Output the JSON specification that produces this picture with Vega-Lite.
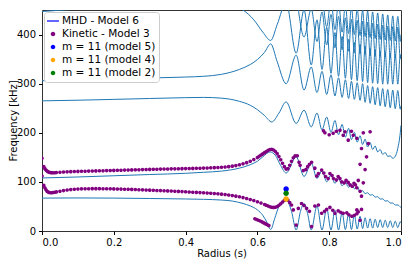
{
"$schema": "https://vega.github.io/schema/vega-lite/v6.json",
"width": 359, "height": 221,
"autosize": {"type": "none"},
"padding": {"left": 42, "top": 10, "right": 14, "bottom": 33},
"config": {
 "font": "DejaVu Sans",
 "view": {"stroke": "#333333", "strokeWidth": 1},
 "axis": {"grid": false, "domain": false, "tickColor": "#000000", "tickSize": 3.5, "labelFontSize": 10, "labelColor": "#000000", "titleFontSize": 10, "titleFontWeight": "normal", "titleColor": "#000000", "labelPadding": 3}
},
"datasets": {
"lines": [
{"l":"D","x":0,"y":67},{"l":"D","x":0.1,"y":67.3},{"l":"D","x":0.2,"y":67},{"l":"D","x":0.3,"y":66.2},{"l":"D","x":0.4,"y":65.2},{"l":"D","x":0.45,"y":64.5},{"l":"D","x":0.5,"y":63},{"l":"D","x":0.53,"y":61},{"l":"D","x":0.56,"y":56},{"l":"D","x":0.58,"y":51},{"l":"D","x":0.6,"y":43},{"l":"D","x":0.615,"y":32},{"l":"D","x":0.627,"y":17},{"l":"D","x":0.637,"y":3},{"l":"D","x":0.648,"y":25},{"l":"D","x":0.66,"y":50},{"l":"D","x":0.68,"y":64},{"l":"D","x":0.695,"y":40},{"l":"D","x":0.708,"y":2},{"l":"D","x":0.72,"y":40},{"l":"D","x":0.73,"y":56},{"l":"D","x":0.74,"y":35},{"l":"D","x":0.75,"y":2},{"l":"D","x":0.766,"y":51},{"l":"D","x":0.78,"y":2},{"l":"D","x":0.793,"y":46},{"l":"D","x":0.805,"y":2},{"l":"D","x":0.816,"y":42},{"l":"D","x":0.826,"y":2},{"l":"D","x":0.836,"y":38},{"l":"D","x":0.845,"y":3},{"l":"D","x":0.854,"y":35},{"l":"D","x":0.862,"y":3},{"l":"D","x":0.87,"y":33},{"l":"D","x":0.878,"y":4},{"l":"D","x":0.886,"y":30},{"l":"D","x":0.893,"y":5},{"l":"D","x":0.9,"y":27},{"l":"D","x":0.907,"y":6},{"l":"D","x":0.914,"y":25},{"l":"D","x":0.921,"y":6},{"l":"D","x":0.928,"y":24},{"l":"D","x":0.935,"y":7},{"l":"D","x":0.942,"y":23},{"l":"D","x":0.949,"y":7},{"l":"D","x":0.956,"y":22},{"l":"D","x":0.963,"y":7},{"l":"D","x":0.97,"y":21},{"l":"D","x":0.977,"y":7},{"l":"D","x":0.984,"y":20},{"l":"D","x":0.991,"y":7},{"l":"D","x":0.998,"y":19},{"l":"D","x":1.0,"y":16},
{"l":"C","x":0,"y":108},{"l":"C","x":0.1,"y":110},{"l":"C","x":0.2,"y":112.5},{"l":"C","x":0.3,"y":115},{"l":"C","x":0.4,"y":117.5},{"l":"C","x":0.45,"y":119.5},{"l":"C","x":0.5,"y":122},{"l":"C","x":0.55,"y":128},{"l":"C","x":0.58,"y":135},{"l":"C","x":0.6,"y":142},{"l":"C","x":0.615,"y":151},{"l":"C","x":0.635,"y":161},{"l":"C","x":0.65,"y":154},{"l":"C","x":0.665,"y":133},{"l":"C","x":0.68,"y":118},{"l":"C","x":0.708,"y":151},{"l":"C","x":0.73,"y":111},{"l":"C","x":0.75,"y":138},{"l":"C","x":0.766,"y":107},{"l":"C","x":0.78,"y":123},{"l":"C","x":0.793,"y":100},{"l":"C","x":0.805,"y":114},{"l":"C","x":0.816,"y":97},{"l":"C","x":0.826,"y":107},{"l":"C","x":0.836,"y":92},{"l":"C","x":0.845,"y":99},{"l":"C","x":0.854,"y":89},{"l":"C","x":0.862,"y":95},{"l":"C","x":0.87,"y":86},{"l":"C","x":0.878,"y":90},{"l":"C","x":0.886,"y":80},{"l":"C","x":0.893,"y":82},{"l":"C","x":0.9,"y":76},{"l":"C","x":0.907,"y":78},{"l":"C","x":0.914,"y":73},{"l":"C","x":0.921,"y":74},{"l":"C","x":0.928,"y":69},{"l":"C","x":0.935,"y":70},{"l":"C","x":0.942,"y":65},{"l":"C","x":0.949,"y":65.5},{"l":"C","x":0.956,"y":61},{"l":"C","x":0.963,"y":61.5},{"l":"C","x":0.97,"y":57},{"l":"C","x":0.977,"y":57},{"l":"C","x":0.984,"y":53},{"l":"C","x":0.991,"y":53},{"l":"C","x":0.998,"y":49},{"l":"C","x":1.0,"y":48},
{"l":"B","x":0,"y":265},{"l":"B","x":0.1,"y":266.3},{"l":"B","x":0.2,"y":268},{"l":"B","x":0.3,"y":269.8},{"l":"B","x":0.4,"y":271.5},{"l":"B","x":0.45,"y":272},{"l":"B","x":0.5,"y":270.5},{"l":"B","x":0.55,"y":264},{"l":"B","x":0.58,"y":256},{"l":"B","x":0.6,"y":247},{"l":"B","x":0.62,"y":235},{"l":"B","x":0.64,"y":222},{"l":"B","x":0.66,"y":240},{"l":"B","x":0.68,"y":263},{"l":"B","x":0.708,"y":219},{"l":"B","x":0.73,"y":246},{"l":"B","x":0.75,"y":212},{"l":"B","x":0.766,"y":240},{"l":"B","x":0.78,"y":206},{"l":"B","x":0.793,"y":232},{"l":"B","x":0.805,"y":201},{"l":"B","x":0.816,"y":225},{"l":"B","x":0.826,"y":196},{"l":"B","x":0.836,"y":217},{"l":"B","x":0.845,"y":191},{"l":"B","x":0.854,"y":209},{"l":"B","x":0.862,"y":186},{"l":"B","x":0.87,"y":201},{"l":"B","x":0.878,"y":181},{"l":"B","x":0.886,"y":194},{"l":"B","x":0.893,"y":176},{"l":"B","x":0.9,"y":187},{"l":"B","x":0.907,"y":171},{"l":"B","x":0.914,"y":180},{"l":"B","x":0.921,"y":166},{"l":"B","x":0.928,"y":173},{"l":"B","x":0.935,"y":161},{"l":"B","x":0.942,"y":166},{"l":"B","x":0.949,"y":156},{"l":"B","x":0.956,"y":160},{"l":"B","x":0.963,"y":152},{"l":"B","x":0.97,"y":153},{"l":"B","x":0.977,"y":148},{"l":"B","x":0.984,"y":152},{"l":"B","x":0.991,"y":168},{"l":"B","x":0.998,"y":200},{"l":"B","x":1.0,"y":215},
{"l":"A","x":0,"y":306},{"l":"A","x":0.1,"y":307.5},{"l":"A","x":0.2,"y":309.5},{"l":"A","x":0.3,"y":311.5},{"l":"A","x":0.4,"y":313.5},{"l":"A","x":0.45,"y":315},{"l":"A","x":0.5,"y":319},{"l":"A","x":0.55,"y":329},{"l":"A","x":0.58,"y":339},{"l":"A","x":0.6,"y":349},{"l":"A","x":0.62,"y":364},{"l":"A","x":0.637,"y":381},{"l":"A","x":0.655,"y":345},{"l":"A","x":0.68,"y":300},{"l":"A","x":0.708,"y":358},{"l":"A","x":0.73,"y":287},{"l":"A","x":0.75,"y":334},{"l":"A","x":0.766,"y":282},{"l":"A","x":0.78,"y":325},{"l":"A","x":0.793,"y":278},{"l":"A","x":0.805,"y":318},{"l":"A","x":0.816,"y":275},{"l":"A","x":0.826,"y":312},{"l":"A","x":0.836,"y":272},{"l":"A","x":0.845,"y":308},{"l":"A","x":0.854,"y":270},{"l":"A","x":0.862,"y":305},{"l":"A","x":0.87,"y":268},{"l":"A","x":0.878,"y":302},{"l":"A","x":0.886,"y":266},{"l":"A","x":0.893,"y":300},{"l":"A","x":0.9,"y":262},{"l":"A","x":0.907,"y":296},{"l":"A","x":0.914,"y":260},{"l":"A","x":0.921,"y":294},{"l":"A","x":0.928,"y":257},{"l":"A","x":0.935,"y":292},{"l":"A","x":0.942,"y":255},{"l":"A","x":0.949,"y":290},{"l":"A","x":0.956,"y":253},{"l":"A","x":0.963,"y":288},{"l":"A","x":0.97,"y":251},{"l":"A","x":0.977,"y":287},{"l":"A","x":0.984,"y":249},{"l":"A","x":0.991,"y":286},{"l":"A","x":0.998,"y":248},{"l":"A","x":1.0,"y":255},
{"l":"U","x":0,"y":447},{"l":"U","x":0.04,"y":449},{"l":"U","x":0.08,"y":451},{"l":"U","x":0.15,"y":456},{"l":"U","x":0.3,"y":464},{"l":"U","x":0.45,"y":470},{"l":"U","x":0.5,"y":467},{"l":"U","x":0.53,"y":460},{"l":"U","x":0.56,"y":450},{"l":"U","x":0.59,"y":430},{"l":"U","x":0.615,"y":405},{"l":"U","x":0.637,"y":388},{"l":"U","x":0.655,"y":420},{"l":"U","x":0.68,"y":465},{"l":"U","x":0.708,"y":362},{"l":"U","x":0.73,"y":450},{"l":"U","x":0.75,"y":338},{"l":"U","x":0.766,"y":430},{"l":"U","x":0.78,"y":329},{"l":"U","x":0.793,"y":415},{"l":"U","x":0.805,"y":321},{"l":"U","x":0.816,"y":404},{"l":"U","x":0.826,"y":315},{"l":"U","x":0.836,"y":396},{"l":"U","x":0.845,"y":311},{"l":"U","x":0.854,"y":390},{"l":"U","x":0.862,"y":308},{"l":"U","x":0.87,"y":384},{"l":"U","x":0.878,"y":306},{"l":"U","x":0.886,"y":380},{"l":"U","x":0.893,"y":304},{"l":"U","x":0.9,"y":376},{"l":"U","x":0.907,"y":302},{"l":"U","x":0.914,"y":372},{"l":"U","x":0.921,"y":301},{"l":"U","x":0.928,"y":369},{"l":"U","x":0.935,"y":300},{"l":"U","x":0.942,"y":366},{"l":"U","x":0.949,"y":299},{"l":"U","x":0.956,"y":364},{"l":"U","x":0.963,"y":299},{"l":"U","x":0.97,"y":362},{"l":"U","x":0.977,"y":299},{"l":"U","x":0.984,"y":360},{"l":"U","x":0.991,"y":299},{"l":"U","x":0.998,"y":358},{"l":"U","x":1.0,"y":350},
{"l":"G","x":0.69,"y":560},{"l":"G","x":0.708,"y":480},{"l":"G","x":0.73,"y":395},{"l":"G","x":0.75,"y":452},{"l":"G","x":0.766,"y":386},{"l":"G","x":0.78,"y":446},{"l":"G","x":0.793,"y":379},{"l":"G","x":0.805,"y":441},{"l":"G","x":0.816,"y":373},{"l":"G","x":0.826,"y":437},{"l":"G","x":0.836,"y":369},{"l":"G","x":0.845,"y":434},{"l":"G","x":0.854,"y":366},{"l":"G","x":0.862,"y":431},{"l":"G","x":0.87,"y":363},{"l":"G","x":0.878,"y":429},{"l":"G","x":0.886,"y":361},{"l":"G","x":0.893,"y":427},{"l":"G","x":0.9,"y":359},{"l":"G","x":0.907,"y":425},{"l":"G","x":0.914,"y":357},{"l":"G","x":0.921,"y":423},{"l":"G","x":0.928,"y":356},{"l":"G","x":0.935,"y":421},{"l":"G","x":0.942,"y":355},{"l":"G","x":0.949,"y":419},{"l":"G","x":0.956,"y":354},{"l":"G","x":0.963,"y":417},{"l":"G","x":0.97,"y":353},{"l":"G","x":0.977,"y":416},{"l":"G","x":0.984,"y":352},{"l":"G","x":0.991,"y":415},{"l":"G","x":0.998,"y":352},{"l":"G","x":1.0,"y":360},
{"l":"H","x":0.76,"y":600},{"l":"H","x":0.78,"y":490},{"l":"H","x":0.793,"y":416},{"l":"H","x":0.805,"y":470},{"l":"H","x":0.816,"y":410},{"l":"H","x":0.826,"y":465},{"l":"H","x":0.836,"y":405},{"l":"H","x":0.845,"y":460},{"l":"H","x":0.854,"y":402},{"l":"H","x":0.862,"y":456},{"l":"H","x":0.87,"y":400},{"l":"H","x":0.878,"y":452},{"l":"H","x":0.886,"y":398},{"l":"H","x":0.893,"y":450},{"l":"H","x":0.9,"y":396},{"l":"H","x":0.907,"y":448},{"l":"H","x":0.914,"y":394},{"l":"H","x":0.921,"y":446},{"l":"H","x":0.928,"y":392},{"l":"H","x":0.935,"y":444},{"l":"H","x":0.942,"y":390},{"l":"H","x":0.949,"y":442},{"l":"H","x":0.956,"y":389},{"l":"H","x":0.963,"y":440},{"l":"H","x":0.97,"y":388},{"l":"H","x":0.977,"y":438},{"l":"H","x":0.984,"y":387},{"l":"H","x":0.991,"y":437},{"l":"H","x":0.998,"y":386},{"l":"H","x":1.0,"y":400}
],
"kin": [
{"s":"Kinetic - Model 3","x":0,"y":148},{"s":"Kinetic - Model 3","x":0.005,"y":131},{"s":"Kinetic - Model 3","x":0.008,"y":127},{"s":"Kinetic - Model 3","x":0.011,"y":124},{"s":"Kinetic - Model 3","x":0.014,"y":122},{"s":"Kinetic - Model 3","x":0.017,"y":120.5},{"s":"Kinetic - Model 3","x":0.02,"y":119.5},{"s":"Kinetic - Model 3","x":0.025,"y":118.8},{"s":"Kinetic - Model 3","x":0.03,"y":118.5},{"s":"Kinetic - Model 3","x":0.035,"y":118.7},{"s":"Kinetic - Model 3","x":0.04,"y":119},{"s":"Kinetic - Model 3","x":0.05,"y":119.5},{"s":"Kinetic - Model 3","x":0.06,"y":120},{"s":"Kinetic - Model 3","x":0.07,"y":120.4},{"s":"Kinetic - Model 3","x":0.08,"y":120.8},{"s":"Kinetic - Model 3","x":0.09,"y":121.1},{"s":"Kinetic - Model 3","x":0.1,"y":121.4},{"s":"Kinetic - Model 3","x":0.11,"y":121.6},{"s":"Kinetic - Model 3","x":0.12,"y":121.8},{"s":"Kinetic - Model 3","x":0.13,"y":122},{"s":"Kinetic - Model 3","x":0.14,"y":122.2},{"s":"Kinetic - Model 3","x":0.15,"y":122.4},{"s":"Kinetic - Model 3","x":0.16,"y":122.6},{"s":"Kinetic - Model 3","x":0.17,"y":122.8},{"s":"Kinetic - Model 3","x":0.18,"y":123},{"s":"Kinetic - Model 3","x":0.19,"y":123.2},{"s":"Kinetic - Model 3","x":0.2,"y":123.4},{"s":"Kinetic - Model 3","x":0.21,"y":123.6},{"s":"Kinetic - Model 3","x":0.22,"y":123.8},{"s":"Kinetic - Model 3","x":0.23,"y":124},{"s":"Kinetic - Model 3","x":0.24,"y":124.2},{"s":"Kinetic - Model 3","x":0.25,"y":124.4},{"s":"Kinetic - Model 3","x":0.26,"y":124.6},{"s":"Kinetic - Model 3","x":0.27,"y":124.8},{"s":"Kinetic - Model 3","x":0.28,"y":125},{"s":"Kinetic - Model 3","x":0.29,"y":125.2},{"s":"Kinetic - Model 3","x":0.3,"y":125.4},{"s":"Kinetic - Model 3","x":0.31,"y":125.6},{"s":"Kinetic - Model 3","x":0.32,"y":125.8},{"s":"Kinetic - Model 3","x":0.33,"y":126},{"s":"Kinetic - Model 3","x":0.34,"y":126.1},{"s":"Kinetic - Model 3","x":0.35,"y":126.3},{"s":"Kinetic - Model 3","x":0.36,"y":126.5},{"s":"Kinetic - Model 3","x":0.37,"y":126.6},{"s":"Kinetic - Model 3","x":0.38,"y":126.8},{"s":"Kinetic - Model 3","x":0.39,"y":127},{"s":"Kinetic - Model 3","x":0.4,"y":127.1},{"s":"Kinetic - Model 3","x":0.41,"y":127.3},{"s":"Kinetic - Model 3","x":0.42,"y":127.5},{"s":"Kinetic - Model 3","x":0.43,"y":127.7},{"s":"Kinetic - Model 3","x":0.44,"y":127.9},{"s":"Kinetic - Model 3","x":0.45,"y":128.1},{"s":"Kinetic - Model 3","x":0.46,"y":128.4},{"s":"Kinetic - Model 3","x":0.47,"y":128.7},{"s":"Kinetic - Model 3","x":0.48,"y":129},{"s":"Kinetic - Model 3","x":0.49,"y":129.4},{"s":"Kinetic - Model 3","x":0.5,"y":129.8},{"s":"Kinetic - Model 3","x":0.51,"y":130.3},{"s":"Kinetic - Model 3","x":0.52,"y":131},{"s":"Kinetic - Model 3","x":0.53,"y":132},{"s":"Kinetic - Model 3","x":0.54,"y":133.2},{"s":"Kinetic - Model 3","x":0.55,"y":134.8},{"s":"Kinetic - Model 3","x":0.56,"y":136.8},{"s":"Kinetic - Model 3","x":0.57,"y":139.2},{"s":"Kinetic - Model 3","x":0.58,"y":142},{"s":"Kinetic - Model 3","x":0.59,"y":145.5},{"s":"Kinetic - Model 3","x":0.6,"y":149.5},{"s":"Kinetic - Model 3","x":0.605,"y":152},{"s":"Kinetic - Model 3","x":0.61,"y":154.5},{"s":"Kinetic - Model 3","x":0.615,"y":157},{"s":"Kinetic - Model 3","x":0.62,"y":159.5},{"s":"Kinetic - Model 3","x":0.625,"y":162},{"s":"Kinetic - Model 3","x":0.63,"y":164.5},{"s":"Kinetic - Model 3","x":0.635,"y":166},{"s":"Kinetic - Model 3","x":0.64,"y":166.5},{"s":"Kinetic - Model 3","x":0.645,"y":165},{"s":"Kinetic - Model 3","x":0.65,"y":162},{"s":"Kinetic - Model 3","x":0.655,"y":157.5},{"s":"Kinetic - Model 3","x":0.66,"y":151.5},{"s":"Kinetic - Model 3","x":0.665,"y":145},{"s":"Kinetic - Model 3","x":0.67,"y":138},{"s":"Kinetic - Model 3","x":0.675,"y":131},{"s":"Kinetic - Model 3","x":0.68,"y":126},{"s":"Kinetic - Model 3","x":0.685,"y":127},{"s":"Kinetic - Model 3","x":0.69,"y":134},{"s":"Kinetic - Model 3","x":0.695,"y":142},{"s":"Kinetic - Model 3","x":0.7,"y":149},{"s":"Kinetic - Model 3","x":0.705,"y":153},{"s":"Kinetic - Model 3","x":0.711,"y":153},
{"s":"Kinetic - Model 3","x":0.716,"y":140},{"s":"Kinetic - Model 3","x":0.719,"y":134},{"s":"Kinetic - Model 3","x":0.728,"y":123},{"s":"Kinetic - Model 3","x":0.735,"y":125},{"s":"Kinetic - Model 3","x":0.74,"y":131},{"s":"Kinetic - Model 3","x":0.745,"y":136},{"s":"Kinetic - Model 3","x":0.751,"y":140},{"s":"Kinetic - Model 3","x":0.76,"y":128},{"s":"Kinetic - Model 3","x":0.765,"y":112},{"s":"Kinetic - Model 3","x":0.77,"y":117},{"s":"Kinetic - Model 3","x":0.779,"y":124},{"s":"Kinetic - Model 3","x":0.785,"y":118},{"s":"Kinetic - Model 3","x":0.79,"y":111},{"s":"Kinetic - Model 3","x":0.797,"y":107},{"s":"Kinetic - Model 3","x":0.802,"y":117},{"s":"Kinetic - Model 3","x":0.808,"y":113},{"s":"Kinetic - Model 3","x":0.812,"y":107},{"s":"Kinetic - Model 3","x":0.82,"y":104},{"s":"Kinetic - Model 3","x":0.825,"y":111},{"s":"Kinetic - Model 3","x":0.83,"y":107},{"s":"Kinetic - Model 3","x":0.835,"y":100},{"s":"Kinetic - Model 3","x":0.842,"y":98},{"s":"Kinetic - Model 3","x":0.847,"y":103},{"s":"Kinetic - Model 3","x":0.853,"y":99},{"s":"Kinetic - Model 3","x":0.858,"y":94},{"s":"Kinetic - Model 3","x":0.864,"y":91},{"s":"Kinetic - Model 3","x":0.869,"y":97},{"s":"Kinetic - Model 3","x":0.873,"y":94},{"s":"Kinetic - Model 3","x":0.877,"y":88},{"s":"Kinetic - Model 3","x":0.886,"y":81},
{"s":"Kinetic - Model 3","x":0.886,"y":136},{"s":"Kinetic - Model 3","x":0.9,"y":125},{"s":"Kinetic - Model 3","x":0.881,"y":103},{"s":"Kinetic - Model 3","x":0.895,"y":98},{"s":"Kinetic - Model 3","x":0.89,"y":71},{"s":"Kinetic - Model 3","x":0.877,"y":43},{"s":"Kinetic - Model 3","x":0.89,"y":44},{"s":"Kinetic - Model 3","x":0.904,"y":151},{"s":"Kinetic - Model 3","x":0.89,"y":168},{"s":"Kinetic - Model 3","x":0.909,"y":178},{"s":"Kinetic - Model 3","x":0.895,"y":200},{"s":"Kinetic - Model 3","x":0.914,"y":202},{"s":"Kinetic - Model 3","x":0.867,"y":195},{"s":"Kinetic - Model 3","x":0.862,"y":203},{"s":"Kinetic - Model 3","x":0.839,"y":195},{"s":"Kinetic - Model 3","x":0.811,"y":199},{"s":"Kinetic - Model 3","x":0.788,"y":200},{"s":"Kinetic - Model 3","x":0.784,"y":204},{"s":"Kinetic - Model 3","x":0.844,"y":202},{"s":"Kinetic - Model 3","x":0.853,"y":185},{"s":"Kinetic - Model 3","x":0.877,"y":189},{"s":"Kinetic - Model 3","x":0.82,"y":203},{"s":"Kinetic - Model 3","x":0.8,"y":196},{"s":"Kinetic - Model 3","x":0.83,"y":205},
{"s":"Kinetic - Model 3","x":0,"y":112},{"s":"Kinetic - Model 3","x":0.005,"y":93},{"s":"Kinetic - Model 3","x":0.008,"y":88},{"s":"Kinetic - Model 3","x":0.011,"y":84},{"s":"Kinetic - Model 3","x":0.014,"y":81},{"s":"Kinetic - Model 3","x":0.017,"y":79.5},{"s":"Kinetic - Model 3","x":0.02,"y":78.5},{"s":"Kinetic - Model 3","x":0.025,"y":78},{"s":"Kinetic - Model 3","x":0.03,"y":78.2},{"s":"Kinetic - Model 3","x":0.035,"y":78.8},{"s":"Kinetic - Model 3","x":0.04,"y":79.6},{"s":"Kinetic - Model 3","x":0.05,"y":81},{"s":"Kinetic - Model 3","x":0.06,"y":82.3},{"s":"Kinetic - Model 3","x":0.07,"y":83.4},{"s":"Kinetic - Model 3","x":0.08,"y":84.3},{"s":"Kinetic - Model 3","x":0.09,"y":85},{"s":"Kinetic - Model 3","x":0.1,"y":85.5},{"s":"Kinetic - Model 3","x":0.11,"y":85.8},{"s":"Kinetic - Model 3","x":0.12,"y":86},{"s":"Kinetic - Model 3","x":0.13,"y":86.1},{"s":"Kinetic - Model 3","x":0.14,"y":86.2},{"s":"Kinetic - Model 3","x":0.15,"y":86.2},{"s":"Kinetic - Model 3","x":0.16,"y":86.2},{"s":"Kinetic - Model 3","x":0.17,"y":86.1},{"s":"Kinetic - Model 3","x":0.18,"y":86},{"s":"Kinetic - Model 3","x":0.19,"y":85.9},{"s":"Kinetic - Model 3","x":0.2,"y":85.7},{"s":"Kinetic - Model 3","x":0.21,"y":85.5},{"s":"Kinetic - Model 3","x":0.22,"y":85.3},{"s":"Kinetic - Model 3","x":0.23,"y":85.1},{"s":"Kinetic - Model 3","x":0.24,"y":84.9},{"s":"Kinetic - Model 3","x":0.25,"y":84.7},{"s":"Kinetic - Model 3","x":0.26,"y":84.4},{"s":"Kinetic - Model 3","x":0.27,"y":84.1},{"s":"Kinetic - Model 3","x":0.28,"y":83.8},{"s":"Kinetic - Model 3","x":0.29,"y":83.5},{"s":"Kinetic - Model 3","x":0.3,"y":83.2},{"s":"Kinetic - Model 3","x":0.31,"y":82.9},{"s":"Kinetic - Model 3","x":0.32,"y":82.6},{"s":"Kinetic - Model 3","x":0.33,"y":82.3},{"s":"Kinetic - Model 3","x":0.34,"y":82},{"s":"Kinetic - Model 3","x":0.35,"y":81.7},{"s":"Kinetic - Model 3","x":0.36,"y":81.3},{"s":"Kinetic - Model 3","x":0.37,"y":81},{"s":"Kinetic - Model 3","x":0.38,"y":80.6},{"s":"Kinetic - Model 3","x":0.39,"y":80.2},{"s":"Kinetic - Model 3","x":0.4,"y":79.8},{"s":"Kinetic - Model 3","x":0.41,"y":79.4},{"s":"Kinetic - Model 3","x":0.42,"y":79},{"s":"Kinetic - Model 3","x":0.43,"y":78.6},{"s":"Kinetic - Model 3","x":0.44,"y":78.2},{"s":"Kinetic - Model 3","x":0.45,"y":77.8},{"s":"Kinetic - Model 3","x":0.46,"y":77.3},{"s":"Kinetic - Model 3","x":0.47,"y":76.8},{"s":"Kinetic - Model 3","x":0.48,"y":76.3},{"s":"Kinetic - Model 3","x":0.49,"y":75.7},{"s":"Kinetic - Model 3","x":0.5,"y":75},{"s":"Kinetic - Model 3","x":0.51,"y":74.2},{"s":"Kinetic - Model 3","x":0.52,"y":73.3},{"s":"Kinetic - Model 3","x":0.53,"y":72.2},{"s":"Kinetic - Model 3","x":0.54,"y":71},{"s":"Kinetic - Model 3","x":0.55,"y":69.6},{"s":"Kinetic - Model 3","x":0.56,"y":68},{"s":"Kinetic - Model 3","x":0.57,"y":66.2},{"s":"Kinetic - Model 3","x":0.58,"y":64.2},{"s":"Kinetic - Model 3","x":0.59,"y":62},{"s":"Kinetic - Model 3","x":0.6,"y":59.6},{"s":"Kinetic - Model 3","x":0.61,"y":57},{"s":"Kinetic - Model 3","x":0.62,"y":54},{"s":"Kinetic - Model 3","x":0.625,"y":52.3},{"s":"Kinetic - Model 3","x":0.63,"y":50.8},{"s":"Kinetic - Model 3","x":0.635,"y":49.5},{"s":"Kinetic - Model 3","x":0.64,"y":48.5},{"s":"Kinetic - Model 3","x":0.645,"y":48},{"s":"Kinetic - Model 3","x":0.65,"y":48.5},{"s":"Kinetic - Model 3","x":0.655,"y":50},{"s":"Kinetic - Model 3","x":0.66,"y":52.5},{"s":"Kinetic - Model 3","x":0.665,"y":55.5},{"s":"Kinetic - Model 3","x":0.67,"y":59},{"s":"Kinetic - Model 3","x":0.675,"y":62.5},{"s":"Kinetic - Model 3","x":0.68,"y":65.5},
{"s":"Kinetic - Model 3","x":0.685,"y":63},{"s":"Kinetic - Model 3","x":0.69,"y":58},{"s":"Kinetic - Model 3","x":0.695,"y":53},{"s":"Kinetic - Model 3","x":0.7,"y":43},{"s":"Kinetic - Model 3","x":0.714,"y":46},{"s":"Kinetic - Model 3","x":0.723,"y":56},{"s":"Kinetic - Model 3","x":0.73,"y":52},{"s":"Kinetic - Model 3","x":0.737,"y":46},{"s":"Kinetic - Model 3","x":0.745,"y":40},{"s":"Kinetic - Model 3","x":0.76,"y":51},{"s":"Kinetic - Model 3","x":0.77,"y":53},{"s":"Kinetic - Model 3","x":0.779,"y":36},{"s":"Kinetic - Model 3","x":0.787,"y":40},{"s":"Kinetic - Model 3","x":0.793,"y":44},{"s":"Kinetic - Model 3","x":0.802,"y":48},{"s":"Kinetic - Model 3","x":0.81,"y":42},{"s":"Kinetic - Model 3","x":0.816,"y":36},{"s":"Kinetic - Model 3","x":0.825,"y":41},{"s":"Kinetic - Model 3","x":0.832,"y":38},{"s":"Kinetic - Model 3","x":0.839,"y":36},{"s":"Kinetic - Model 3","x":0.849,"y":37},{"s":"Kinetic - Model 3","x":0.855,"y":33},{"s":"Kinetic - Model 3","x":0.863,"y":30},{"s":"Kinetic - Model 3","x":0.87,"y":32},{"s":"Kinetic - Model 3","x":0.877,"y":35},{"s":"Kinetic - Model 3","x":0.881,"y":39},{"s":"Kinetic - Model 3","x":0.886,"y":22},{"s":"Kinetic - Model 3","x":0.708,"y":12},{"s":"Kinetic - Model 3","x":0.751,"y":9},
{"s":"Kinetic - Model 3","x":0.593,"y":25},{"s":"Kinetic - Model 3","x":0.598,"y":23.5},{"s":"Kinetic - Model 3","x":0.603,"y":22},{"s":"Kinetic - Model 3","x":0.608,"y":20.5},{"s":"Kinetic - Model 3","x":0.613,"y":18.5},{"s":"Kinetic - Model 3","x":0.618,"y":16.5},{"s":"Kinetic - Model 3","x":0.623,"y":14.5},{"s":"Kinetic - Model 3","x":0.628,"y":12.5},{"s":"Kinetic - Model 3","x":0.632,"y":11}
],
"m11": [
{"s":"m = 11 (model 5)","x":0.68,"y":85.5},
{"s":"m = 11 (model 2)","x":0.68,"y":77},
{"s":"m = 11 (model 4)","x":0.68,"y":65}
]
},
"layer": [
{"data": {"name": "lines"},
 "mark": {"type": "line", "color": "#1f77b4", "strokeWidth": 1, "interpolate": "monotone", "clip": true},
 "encoding": {
  "x": {"field": "x", "type": "quantitative", "scale": {"domain": [0, 1], "nice": false, "zero": false},
        "axis": {"values": [0, 0.2, 0.4, 0.6, 0.8, 1.0], "format": ".1f", "title": "Radius (s)", "titlePadding": 1}},
  "y": {"field": "y", "type": "quantitative", "scale": {"domain": [0, 450], "nice": false},
        "axis": {"values": [0, 50, 100, 150, 200, 250, 300, 350, 400, 450], "title": "Frequency [kHz]", "titlePadding": -2}},
  "detail": {"field": "l", "type": "nominal"}
 }},
{"data": {"name": "kin"},
 "mark": {"type": "point", "filled": true, "opacity": 1, "size": 90, "clip": true},
 "encoding": {
  "x": {"field": "x", "type": "quantitative"},
  "y": {"field": "y", "type": "quantitative"},
  "color": {"field": "s", "type": "nominal",
   "scale": {"domain": ["MHD - Model 6", "Kinetic - Model 3", "m = 11 (model 5)", "m = 11 (model 4)", "m = 11 (model 2)"], "range": ["#0000ff", "#800080", "#0000ff", "#ffa500", "#008000"]},
   "legend": {"title": null, "orient": "top-left", "offset": 2, "padding": 3, "fillColor": "#ffffff", "strokeColor": "#cccccc", "cornerRadius": 3, "symbolSize": 144, "symbolStrokeWidth": 0, "symbolOpacity": 1, "labelFontSize": 10.5, "labelColor": "#000000", "labelOffset": 3, "rowPadding": 1}},
  "shape": {"field": "s", "type": "nominal",
   "scale": {"domain": ["MHD - Model 6", "Kinetic - Model 3", "m = 11 (model 5)", "m = 11 (model 4)", "m = 11 (model 2)"], "range": ["M-1,-0.1L1,-0.1L1,0.1L-1,0.1Z", "M-0.38,0A0.38,0.38 0 1,0 0.38,0A0.38,0.38 0 1,0 -0.38,0Z", "M-0.38,0A0.38,0.38 0 1,0 0.38,0A0.38,0.38 0 1,0 -0.38,0Z", "M-0.38,0A0.38,0.38 0 1,0 0.38,0A0.38,0.38 0 1,0 -0.38,0Z", "M-0.38,0A0.38,0.38 0 1,0 0.38,0A0.38,0.38 0 1,0 -0.38,0Z"]},
   "legend": {"title": null, "orient": "top-left", "offset": 2, "padding": 3, "fillColor": "#ffffff", "strokeColor": "#cccccc", "cornerRadius": 3, "symbolSize": 144, "symbolStrokeWidth": 0, "symbolOpacity": 1, "labelFontSize": 10.5, "labelColor": "#000000", "labelOffset": 3, "rowPadding": 1}}
 }},
{"data": {"name": "m11"},
 "mark": {"type": "point", "filled": true, "opacity": 1, "size": 210},
 "encoding": {
  "x": {"field": "x", "type": "quantitative"},
  "y": {"field": "y", "type": "quantitative"},
  "color": {"field": "s", "type": "nominal"},
  "shape": {"field": "s", "type": "nominal"}
 }}
]
}
